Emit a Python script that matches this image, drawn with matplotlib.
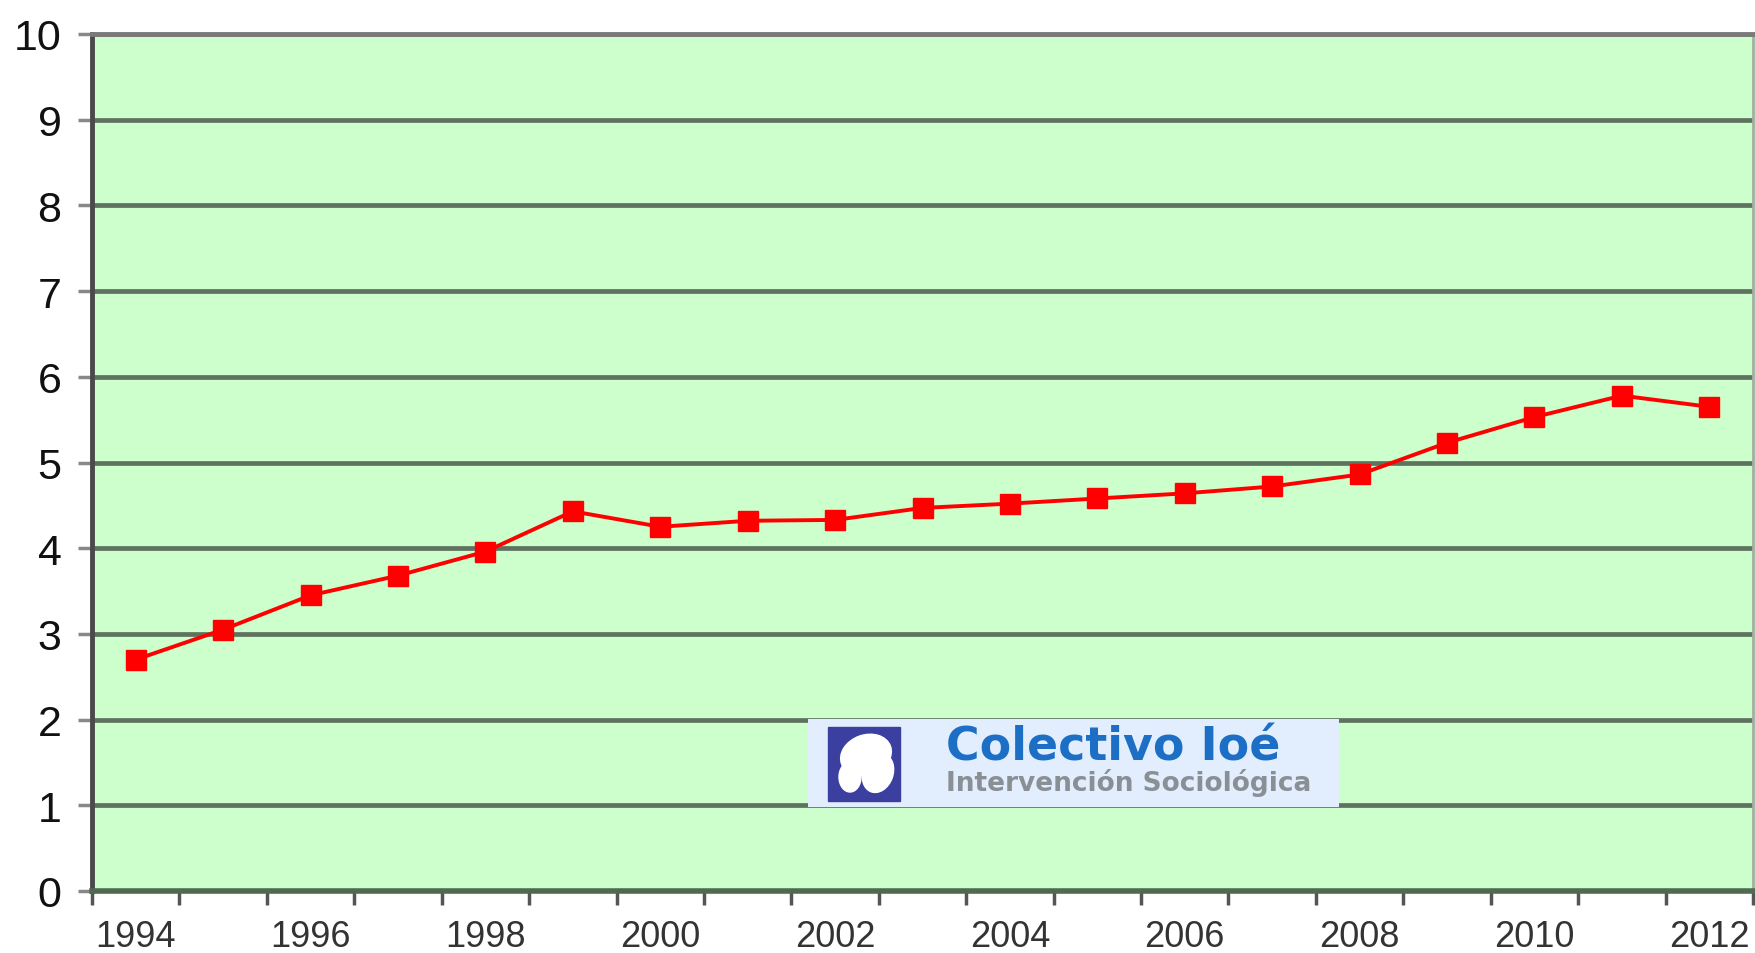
import numpy as np
import matplotlib
matplotlib.use("Agg")
import matplotlib.pyplot as plt
from matplotlib.patches import Rectangle, Ellipse

years = list(range(1994, 2013))
values = [2.70, 3.05, 3.45, 3.68, 3.96, 4.43, 4.25, 4.32, 4.33, 4.47,
          4.52, 4.58, 4.64, 4.72, 4.86, 5.23, 5.53, 5.78, 5.65]
year_labels = [str(y) if y % 2 == 0 else "" for y in years]
y_ticks = list(range(0, 11))

plt.rcParams['font.family'] = ['Liberation Sans', 'DejaVu Sans']

fig = plt.figure(figsize=(17.56, 9.54), dpi=100)
ax = fig.add_axes([92/1756, 1 - 892/954, (1753-92)/1756, (892-35)/954])
ax.set_facecolor('#CCFFCC')

x = np.arange(len(years))
ax.set_xlim(-0.5, len(years) - 0.5)
ax.set_ylim(0, 10)

for yv in y_ticks[1:]:
    ax.axhline(yv, color='#5F725F', lw=3.4, zorder=1)

ax.plot(x, values, color='#FF0000', lw=2.8, marker='s', markersize=15,
        markerfacecolor='#FF0000', markeredgecolor='#FF0000', zorder=3)

ax.set_yticks(y_ticks)
ax.set_yticklabels([str(v) for v in y_ticks], fontsize=31, color='#111111')
ax.set_xticks(x)
ax.set_xticklabels(year_labels, fontsize=26, color='#333333')
ax.set_xticks(np.arange(-0.5, len(years)), minor=True)
ax.tick_params(axis='x', which='major', length=0, pad=20)
ax.tick_params(axis='x', which='minor', length=10, width=2.5, color='#555555')
ax.tick_params(axis='y', length=10, width=2.5, color='#888888', pad=12)

ax.spines['left'].set_color('#4A4A4A')
ax.spines['left'].set_linewidth(3.5)
ax.spines['bottom'].set_color('#4F6A4F')
ax.spines['bottom'].set_linewidth(4)
ax.spines['top'].set_color('#7A7A7A')
ax.spines['top'].set_linewidth(3.5)
ax.spines['right'].set_color('#A0B0A0')
ax.spines['right'].set_linewidth(2)

# logo box
lg = fig.add_axes([808/1756, 1 - 808/954, 531/1756, 88/954])
lg.set_xlim(0, 531)
lg.set_ylim(0, 88)
lg.axis('off')
lg.add_patch(Rectangle((0, 0), 531, 88, color='#E2EEFD'))
lg.add_patch(Rectangle((20, 6), 72, 74, color='#3A3FA0'))
lg.add_patch(Ellipse((58, 52), 52, 40, angle=20, color='white'))
lg.add_patch(Ellipse((70, 34), 30, 40, angle=-20, color='white'))
lg.add_patch(Ellipse((42, 30), 22, 30, color='white'))
lg.text(138, 47, "Colectivo Ioé", fontsize=33, fontweight='bold',
        family='DejaVu Sans', color='#1C6FC4', va='baseline', ha='left')
lg.text(138, 17, "Intervención Sociológica", fontsize=19, fontweight='bold',
        family='DejaVu Sans', color='#8A8F96', va='baseline', ha='left')

fig.savefig("out.png", dpi=100, facecolor='white')
